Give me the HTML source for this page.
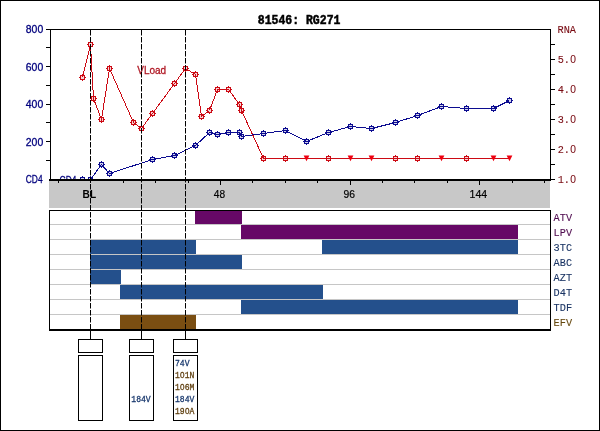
<!DOCTYPE html>
<html><head><meta charset="utf-8"><title>81546: RG271</title>
<style>html,body{margin:0;padding:0;background:#fff;}svg{display:block;will-change:transform;}</style>
</head><body>
<svg width="600" height="431" viewBox="0 0 600 431">
<rect x="0" y="0" width="600" height="431" fill="#fff"/>
<text x="59.6" y="183.6" style="font-family:'Liberation Sans',sans-serif" font-size="11" font-weight="normal" fill="#00007e" text-anchor="start" textLength="16.8" lengthAdjust="spacingAndGlyphs" stroke="#00007e" stroke-width="0.3">CD4</text>
<polyline fill="none" shape-rendering="crispEdges" stroke="#cc0a14" stroke-width="1.0" points="82.5,77.5 90.5,44.5 93.5,98.5 101.5,119.5 109.5,68.5 133.5,122.5 141.5,128.5 152.5,113.5 174.5,83.5 185.5,68.5 195.5,74.5 201.5,116.5 209.5,110.5 217.5,89.5 228.5,89.5 239.5,104.5 241.5,110.5 263.5,158.5 285.5,158.5 306.5,158.5 328.5,158.5 350.5,158.5 371.5,158.5 395.5,158.5 417.5,158.5 441.5,158.5 466.5,158.5 493.5,158.5 509.5,158.5"/>
<polyline fill="none" shape-rendering="crispEdges" stroke="#0c0c90" stroke-width="1.0" points="82.5,179.5 90.5,179.5 101.5,164.5 109.5,173.5 152.5,159.5 174.5,155.5 195.5,145.5 209.5,132.5 217.5,134.5 228.5,132.5 239.5,132.5 241.5,136.5 263.5,133.5 285.5,130.5 306.5,141.5 328.5,132.5 350.5,126.5 371.5,128.5 395.5,122.5 417.5,115.5 441.5,106.5 466.5,108.5 493.5,108.5 509.5,100.5"/>
<g shape-rendering="crispEdges"><rect x="81" y="76" width="3" height="3" fill="#cc0a14" fill-opacity="0.18"/><rect x="80.5" y="75.5" width="4" height="4" fill="none" stroke="#cc0a14" stroke-width="1"/><rect x="82" y="74" width="1" height="1" fill="#cc0a14"/><rect x="82" y="80" width="1" height="1" fill="#cc0a14"/><rect x="79" y="77" width="1" height="1" fill="#cc0a14"/><rect x="85" y="77" width="1" height="1" fill="#cc0a14"/></g>
<g shape-rendering="crispEdges"><rect x="89" y="43" width="3" height="3" fill="#cc0a14" fill-opacity="0.18"/><rect x="88.5" y="42.5" width="4" height="4" fill="none" stroke="#cc0a14" stroke-width="1"/><rect x="90" y="41" width="1" height="1" fill="#cc0a14"/><rect x="90" y="47" width="1" height="1" fill="#cc0a14"/><rect x="87" y="44" width="1" height="1" fill="#cc0a14"/><rect x="93" y="44" width="1" height="1" fill="#cc0a14"/></g>
<g shape-rendering="crispEdges"><rect x="92" y="97" width="3" height="3" fill="#cc0a14" fill-opacity="0.18"/><rect x="91.5" y="96.5" width="4" height="4" fill="none" stroke="#cc0a14" stroke-width="1"/><rect x="93" y="95" width="1" height="1" fill="#cc0a14"/><rect x="93" y="101" width="1" height="1" fill="#cc0a14"/><rect x="90" y="98" width="1" height="1" fill="#cc0a14"/><rect x="96" y="98" width="1" height="1" fill="#cc0a14"/></g>
<g shape-rendering="crispEdges"><rect x="100" y="118" width="3" height="3" fill="#cc0a14" fill-opacity="0.18"/><rect x="99.5" y="117.5" width="4" height="4" fill="none" stroke="#cc0a14" stroke-width="1"/><rect x="101" y="116" width="1" height="1" fill="#cc0a14"/><rect x="101" y="122" width="1" height="1" fill="#cc0a14"/><rect x="98" y="119" width="1" height="1" fill="#cc0a14"/><rect x="104" y="119" width="1" height="1" fill="#cc0a14"/></g>
<g shape-rendering="crispEdges"><rect x="108" y="67" width="3" height="3" fill="#cc0a14" fill-opacity="0.18"/><rect x="107.5" y="66.5" width="4" height="4" fill="none" stroke="#cc0a14" stroke-width="1"/><rect x="109" y="65" width="1" height="1" fill="#cc0a14"/><rect x="109" y="71" width="1" height="1" fill="#cc0a14"/><rect x="106" y="68" width="1" height="1" fill="#cc0a14"/><rect x="112" y="68" width="1" height="1" fill="#cc0a14"/></g>
<g shape-rendering="crispEdges"><rect x="132" y="121" width="3" height="3" fill="#cc0a14" fill-opacity="0.18"/><rect x="131.5" y="120.5" width="4" height="4" fill="none" stroke="#cc0a14" stroke-width="1"/><rect x="133" y="119" width="1" height="1" fill="#cc0a14"/><rect x="133" y="125" width="1" height="1" fill="#cc0a14"/><rect x="130" y="122" width="1" height="1" fill="#cc0a14"/><rect x="136" y="122" width="1" height="1" fill="#cc0a14"/></g>
<g shape-rendering="crispEdges"><rect x="140" y="127" width="3" height="3" fill="#cc0a14" fill-opacity="0.18"/><rect x="139.5" y="126.5" width="4" height="4" fill="none" stroke="#cc0a14" stroke-width="1"/><rect x="141" y="125" width="1" height="1" fill="#cc0a14"/><rect x="141" y="131" width="1" height="1" fill="#cc0a14"/><rect x="138" y="128" width="1" height="1" fill="#cc0a14"/><rect x="144" y="128" width="1" height="1" fill="#cc0a14"/></g>
<g shape-rendering="crispEdges"><rect x="151" y="112" width="3" height="3" fill="#cc0a14" fill-opacity="0.18"/><rect x="150.5" y="111.5" width="4" height="4" fill="none" stroke="#cc0a14" stroke-width="1"/><rect x="152" y="110" width="1" height="1" fill="#cc0a14"/><rect x="152" y="116" width="1" height="1" fill="#cc0a14"/><rect x="149" y="113" width="1" height="1" fill="#cc0a14"/><rect x="155" y="113" width="1" height="1" fill="#cc0a14"/></g>
<g shape-rendering="crispEdges"><rect x="173" y="82" width="3" height="3" fill="#cc0a14" fill-opacity="0.18"/><rect x="172.5" y="81.5" width="4" height="4" fill="none" stroke="#cc0a14" stroke-width="1"/><rect x="174" y="80" width="1" height="1" fill="#cc0a14"/><rect x="174" y="86" width="1" height="1" fill="#cc0a14"/><rect x="171" y="83" width="1" height="1" fill="#cc0a14"/><rect x="177" y="83" width="1" height="1" fill="#cc0a14"/></g>
<g shape-rendering="crispEdges"><rect x="184" y="67" width="3" height="3" fill="#cc0a14" fill-opacity="0.18"/><rect x="183.5" y="66.5" width="4" height="4" fill="none" stroke="#cc0a14" stroke-width="1"/><rect x="185" y="65" width="1" height="1" fill="#cc0a14"/><rect x="185" y="71" width="1" height="1" fill="#cc0a14"/><rect x="182" y="68" width="1" height="1" fill="#cc0a14"/><rect x="188" y="68" width="1" height="1" fill="#cc0a14"/></g>
<g shape-rendering="crispEdges"><rect x="194" y="73" width="3" height="3" fill="#cc0a14" fill-opacity="0.18"/><rect x="193.5" y="72.5" width="4" height="4" fill="none" stroke="#cc0a14" stroke-width="1"/><rect x="195" y="71" width="1" height="1" fill="#cc0a14"/><rect x="195" y="77" width="1" height="1" fill="#cc0a14"/><rect x="192" y="74" width="1" height="1" fill="#cc0a14"/><rect x="198" y="74" width="1" height="1" fill="#cc0a14"/></g>
<g shape-rendering="crispEdges"><rect x="200" y="115" width="3" height="3" fill="#cc0a14" fill-opacity="0.18"/><rect x="199.5" y="114.5" width="4" height="4" fill="none" stroke="#cc0a14" stroke-width="1"/><rect x="201" y="113" width="1" height="1" fill="#cc0a14"/><rect x="201" y="119" width="1" height="1" fill="#cc0a14"/><rect x="198" y="116" width="1" height="1" fill="#cc0a14"/><rect x="204" y="116" width="1" height="1" fill="#cc0a14"/></g>
<g shape-rendering="crispEdges"><rect x="208" y="109" width="3" height="3" fill="#cc0a14" fill-opacity="0.18"/><rect x="207.5" y="108.5" width="4" height="4" fill="none" stroke="#cc0a14" stroke-width="1"/><rect x="209" y="107" width="1" height="1" fill="#cc0a14"/><rect x="209" y="113" width="1" height="1" fill="#cc0a14"/><rect x="206" y="110" width="1" height="1" fill="#cc0a14"/><rect x="212" y="110" width="1" height="1" fill="#cc0a14"/></g>
<g shape-rendering="crispEdges"><rect x="216" y="88" width="3" height="3" fill="#cc0a14" fill-opacity="0.18"/><rect x="215.5" y="87.5" width="4" height="4" fill="none" stroke="#cc0a14" stroke-width="1"/><rect x="217" y="86" width="1" height="1" fill="#cc0a14"/><rect x="217" y="92" width="1" height="1" fill="#cc0a14"/><rect x="214" y="89" width="1" height="1" fill="#cc0a14"/><rect x="220" y="89" width="1" height="1" fill="#cc0a14"/></g>
<g shape-rendering="crispEdges"><rect x="227" y="88" width="3" height="3" fill="#cc0a14" fill-opacity="0.18"/><rect x="226.5" y="87.5" width="4" height="4" fill="none" stroke="#cc0a14" stroke-width="1"/><rect x="228" y="86" width="1" height="1" fill="#cc0a14"/><rect x="228" y="92" width="1" height="1" fill="#cc0a14"/><rect x="225" y="89" width="1" height="1" fill="#cc0a14"/><rect x="231" y="89" width="1" height="1" fill="#cc0a14"/></g>
<g shape-rendering="crispEdges"><rect x="238" y="103" width="3" height="3" fill="#cc0a14" fill-opacity="0.18"/><rect x="237.5" y="102.5" width="4" height="4" fill="none" stroke="#cc0a14" stroke-width="1"/><rect x="239" y="101" width="1" height="1" fill="#cc0a14"/><rect x="239" y="107" width="1" height="1" fill="#cc0a14"/><rect x="236" y="104" width="1" height="1" fill="#cc0a14"/><rect x="242" y="104" width="1" height="1" fill="#cc0a14"/></g>
<g shape-rendering="crispEdges"><rect x="240" y="109" width="3" height="3" fill="#cc0a14" fill-opacity="0.18"/><rect x="239.5" y="108.5" width="4" height="4" fill="none" stroke="#cc0a14" stroke-width="1"/><rect x="241" y="107" width="1" height="1" fill="#cc0a14"/><rect x="241" y="113" width="1" height="1" fill="#cc0a14"/><rect x="238" y="110" width="1" height="1" fill="#cc0a14"/><rect x="244" y="110" width="1" height="1" fill="#cc0a14"/></g>
<g shape-rendering="crispEdges"><rect x="262" y="157" width="3" height="3" fill="#cc0a14" fill-opacity="0.18"/><rect x="261.5" y="156.5" width="4" height="4" fill="none" stroke="#cc0a14" stroke-width="1"/><rect x="263" y="155" width="1" height="1" fill="#cc0a14"/><rect x="263" y="161" width="1" height="1" fill="#cc0a14"/><rect x="260" y="158" width="1" height="1" fill="#cc0a14"/><rect x="266" y="158" width="1" height="1" fill="#cc0a14"/></g>
<g shape-rendering="crispEdges"><rect x="284" y="157" width="3" height="3" fill="#cc0a14" fill-opacity="0.18"/><rect x="283.5" y="156.5" width="4" height="4" fill="none" stroke="#cc0a14" stroke-width="1"/><rect x="285" y="155" width="1" height="1" fill="#cc0a14"/><rect x="285" y="161" width="1" height="1" fill="#cc0a14"/><rect x="282" y="158" width="1" height="1" fill="#cc0a14"/><rect x="288" y="158" width="1" height="1" fill="#cc0a14"/></g>
<path d="M303.6,155.4 L309.4,155.4 L306.5,161.3 Z" fill="#ee0010"/>
<g shape-rendering="crispEdges"><rect x="327" y="157" width="3" height="3" fill="#cc0a14" fill-opacity="0.18"/><rect x="326.5" y="156.5" width="4" height="4" fill="none" stroke="#cc0a14" stroke-width="1"/><rect x="328" y="155" width="1" height="1" fill="#cc0a14"/><rect x="328" y="161" width="1" height="1" fill="#cc0a14"/><rect x="325" y="158" width="1" height="1" fill="#cc0a14"/><rect x="331" y="158" width="1" height="1" fill="#cc0a14"/></g>
<path d="M347.6,155.4 L353.4,155.4 L350.5,161.3 Z" fill="#ee0010"/>
<path d="M368.6,155.4 L374.4,155.4 L371.5,161.3 Z" fill="#ee0010"/>
<g shape-rendering="crispEdges"><rect x="394" y="157" width="3" height="3" fill="#cc0a14" fill-opacity="0.18"/><rect x="393.5" y="156.5" width="4" height="4" fill="none" stroke="#cc0a14" stroke-width="1"/><rect x="395" y="155" width="1" height="1" fill="#cc0a14"/><rect x="395" y="161" width="1" height="1" fill="#cc0a14"/><rect x="392" y="158" width="1" height="1" fill="#cc0a14"/><rect x="398" y="158" width="1" height="1" fill="#cc0a14"/></g>
<g shape-rendering="crispEdges"><rect x="416" y="157" width="3" height="3" fill="#cc0a14" fill-opacity="0.18"/><rect x="415.5" y="156.5" width="4" height="4" fill="none" stroke="#cc0a14" stroke-width="1"/><rect x="417" y="155" width="1" height="1" fill="#cc0a14"/><rect x="417" y="161" width="1" height="1" fill="#cc0a14"/><rect x="414" y="158" width="1" height="1" fill="#cc0a14"/><rect x="420" y="158" width="1" height="1" fill="#cc0a14"/></g>
<path d="M438.6,155.4 L444.4,155.4 L441.5,161.3 Z" fill="#ee0010"/>
<g shape-rendering="crispEdges"><rect x="465" y="157" width="3" height="3" fill="#cc0a14" fill-opacity="0.18"/><rect x="464.5" y="156.5" width="4" height="4" fill="none" stroke="#cc0a14" stroke-width="1"/><rect x="466" y="155" width="1" height="1" fill="#cc0a14"/><rect x="466" y="161" width="1" height="1" fill="#cc0a14"/><rect x="463" y="158" width="1" height="1" fill="#cc0a14"/><rect x="469" y="158" width="1" height="1" fill="#cc0a14"/></g>
<path d="M490.6,155.4 L496.4,155.4 L493.5,161.3 Z" fill="#ee0010"/>
<path d="M506.6,155.4 L512.4,155.4 L509.5,161.3 Z" fill="#ee0010"/>
<g shape-rendering="crispEdges"><rect x="81" y="178" width="3" height="3" fill="#0c0c90" fill-opacity="0.18"/><rect x="80.5" y="177.5" width="4" height="4" fill="none" stroke="#0c0c90" stroke-width="1"/><rect x="82" y="176" width="1" height="1" fill="#0c0c90"/><rect x="82" y="182" width="1" height="1" fill="#0c0c90"/><rect x="79" y="179" width="1" height="1" fill="#0c0c90"/><rect x="85" y="179" width="1" height="1" fill="#0c0c90"/></g>
<g shape-rendering="crispEdges"><rect x="89" y="178" width="3" height="3" fill="#0c0c90" fill-opacity="0.18"/><rect x="88.5" y="177.5" width="4" height="4" fill="none" stroke="#0c0c90" stroke-width="1"/><rect x="90" y="176" width="1" height="1" fill="#0c0c90"/><rect x="90" y="182" width="1" height="1" fill="#0c0c90"/><rect x="87" y="179" width="1" height="1" fill="#0c0c90"/><rect x="93" y="179" width="1" height="1" fill="#0c0c90"/></g>
<g shape-rendering="crispEdges"><rect x="100" y="163" width="3" height="3" fill="#0c0c90" fill-opacity="0.18"/><rect x="99.5" y="162.5" width="4" height="4" fill="none" stroke="#0c0c90" stroke-width="1"/><rect x="101" y="161" width="1" height="1" fill="#0c0c90"/><rect x="101" y="167" width="1" height="1" fill="#0c0c90"/><rect x="98" y="164" width="1" height="1" fill="#0c0c90"/><rect x="104" y="164" width="1" height="1" fill="#0c0c90"/></g>
<g shape-rendering="crispEdges"><rect x="108" y="172" width="3" height="3" fill="#0c0c90" fill-opacity="0.18"/><rect x="107.5" y="171.5" width="4" height="4" fill="none" stroke="#0c0c90" stroke-width="1"/><rect x="109" y="170" width="1" height="1" fill="#0c0c90"/><rect x="109" y="176" width="1" height="1" fill="#0c0c90"/><rect x="106" y="173" width="1" height="1" fill="#0c0c90"/><rect x="112" y="173" width="1" height="1" fill="#0c0c90"/></g>
<g shape-rendering="crispEdges"><rect x="151" y="158" width="3" height="3" fill="#0c0c90" fill-opacity="0.18"/><rect x="150.5" y="157.5" width="4" height="4" fill="none" stroke="#0c0c90" stroke-width="1"/><rect x="152" y="156" width="1" height="1" fill="#0c0c90"/><rect x="152" y="162" width="1" height="1" fill="#0c0c90"/><rect x="149" y="159" width="1" height="1" fill="#0c0c90"/><rect x="155" y="159" width="1" height="1" fill="#0c0c90"/></g>
<g shape-rendering="crispEdges"><rect x="173" y="154" width="3" height="3" fill="#0c0c90" fill-opacity="0.18"/><rect x="172.5" y="153.5" width="4" height="4" fill="none" stroke="#0c0c90" stroke-width="1"/><rect x="174" y="152" width="1" height="1" fill="#0c0c90"/><rect x="174" y="158" width="1" height="1" fill="#0c0c90"/><rect x="171" y="155" width="1" height="1" fill="#0c0c90"/><rect x="177" y="155" width="1" height="1" fill="#0c0c90"/></g>
<g shape-rendering="crispEdges"><rect x="194" y="144" width="3" height="3" fill="#0c0c90" fill-opacity="0.18"/><rect x="193.5" y="143.5" width="4" height="4" fill="none" stroke="#0c0c90" stroke-width="1"/><rect x="195" y="142" width="1" height="1" fill="#0c0c90"/><rect x="195" y="148" width="1" height="1" fill="#0c0c90"/><rect x="192" y="145" width="1" height="1" fill="#0c0c90"/><rect x="198" y="145" width="1" height="1" fill="#0c0c90"/></g>
<g shape-rendering="crispEdges"><rect x="208" y="131" width="3" height="3" fill="#0c0c90" fill-opacity="0.18"/><rect x="207.5" y="130.5" width="4" height="4" fill="none" stroke="#0c0c90" stroke-width="1"/><rect x="209" y="129" width="1" height="1" fill="#0c0c90"/><rect x="209" y="135" width="1" height="1" fill="#0c0c90"/><rect x="206" y="132" width="1" height="1" fill="#0c0c90"/><rect x="212" y="132" width="1" height="1" fill="#0c0c90"/></g>
<g shape-rendering="crispEdges"><rect x="216" y="133" width="3" height="3" fill="#0c0c90" fill-opacity="0.18"/><rect x="215.5" y="132.5" width="4" height="4" fill="none" stroke="#0c0c90" stroke-width="1"/><rect x="217" y="131" width="1" height="1" fill="#0c0c90"/><rect x="217" y="137" width="1" height="1" fill="#0c0c90"/><rect x="214" y="134" width="1" height="1" fill="#0c0c90"/><rect x="220" y="134" width="1" height="1" fill="#0c0c90"/></g>
<g shape-rendering="crispEdges"><rect x="227" y="131" width="3" height="3" fill="#0c0c90" fill-opacity="0.18"/><rect x="226.5" y="130.5" width="4" height="4" fill="none" stroke="#0c0c90" stroke-width="1"/><rect x="228" y="129" width="1" height="1" fill="#0c0c90"/><rect x="228" y="135" width="1" height="1" fill="#0c0c90"/><rect x="225" y="132" width="1" height="1" fill="#0c0c90"/><rect x="231" y="132" width="1" height="1" fill="#0c0c90"/></g>
<g shape-rendering="crispEdges"><rect x="238" y="131" width="3" height="3" fill="#0c0c90" fill-opacity="0.18"/><rect x="237.5" y="130.5" width="4" height="4" fill="none" stroke="#0c0c90" stroke-width="1"/><rect x="239" y="129" width="1" height="1" fill="#0c0c90"/><rect x="239" y="135" width="1" height="1" fill="#0c0c90"/><rect x="236" y="132" width="1" height="1" fill="#0c0c90"/><rect x="242" y="132" width="1" height="1" fill="#0c0c90"/></g>
<g shape-rendering="crispEdges"><rect x="240" y="135" width="3" height="3" fill="#0c0c90" fill-opacity="0.18"/><rect x="239.5" y="134.5" width="4" height="4" fill="none" stroke="#0c0c90" stroke-width="1"/><rect x="241" y="133" width="1" height="1" fill="#0c0c90"/><rect x="241" y="139" width="1" height="1" fill="#0c0c90"/><rect x="238" y="136" width="1" height="1" fill="#0c0c90"/><rect x="244" y="136" width="1" height="1" fill="#0c0c90"/></g>
<g shape-rendering="crispEdges"><rect x="262" y="132" width="3" height="3" fill="#0c0c90" fill-opacity="0.18"/><rect x="261.5" y="131.5" width="4" height="4" fill="none" stroke="#0c0c90" stroke-width="1"/><rect x="263" y="130" width="1" height="1" fill="#0c0c90"/><rect x="263" y="136" width="1" height="1" fill="#0c0c90"/><rect x="260" y="133" width="1" height="1" fill="#0c0c90"/><rect x="266" y="133" width="1" height="1" fill="#0c0c90"/></g>
<g shape-rendering="crispEdges"><rect x="284" y="129" width="3" height="3" fill="#0c0c90" fill-opacity="0.18"/><rect x="283.5" y="128.5" width="4" height="4" fill="none" stroke="#0c0c90" stroke-width="1"/><rect x="285" y="127" width="1" height="1" fill="#0c0c90"/><rect x="285" y="133" width="1" height="1" fill="#0c0c90"/><rect x="282" y="130" width="1" height="1" fill="#0c0c90"/><rect x="288" y="130" width="1" height="1" fill="#0c0c90"/></g>
<g shape-rendering="crispEdges"><rect x="305" y="140" width="3" height="3" fill="#0c0c90" fill-opacity="0.18"/><rect x="304.5" y="139.5" width="4" height="4" fill="none" stroke="#0c0c90" stroke-width="1"/><rect x="306" y="138" width="1" height="1" fill="#0c0c90"/><rect x="306" y="144" width="1" height="1" fill="#0c0c90"/><rect x="303" y="141" width="1" height="1" fill="#0c0c90"/><rect x="309" y="141" width="1" height="1" fill="#0c0c90"/></g>
<g shape-rendering="crispEdges"><rect x="327" y="131" width="3" height="3" fill="#0c0c90" fill-opacity="0.18"/><rect x="326.5" y="130.5" width="4" height="4" fill="none" stroke="#0c0c90" stroke-width="1"/><rect x="328" y="129" width="1" height="1" fill="#0c0c90"/><rect x="328" y="135" width="1" height="1" fill="#0c0c90"/><rect x="325" y="132" width="1" height="1" fill="#0c0c90"/><rect x="331" y="132" width="1" height="1" fill="#0c0c90"/></g>
<g shape-rendering="crispEdges"><rect x="349" y="125" width="3" height="3" fill="#0c0c90" fill-opacity="0.18"/><rect x="348.5" y="124.5" width="4" height="4" fill="none" stroke="#0c0c90" stroke-width="1"/><rect x="350" y="123" width="1" height="1" fill="#0c0c90"/><rect x="350" y="129" width="1" height="1" fill="#0c0c90"/><rect x="347" y="126" width="1" height="1" fill="#0c0c90"/><rect x="353" y="126" width="1" height="1" fill="#0c0c90"/></g>
<g shape-rendering="crispEdges"><rect x="370" y="127" width="3" height="3" fill="#0c0c90" fill-opacity="0.18"/><rect x="369.5" y="126.5" width="4" height="4" fill="none" stroke="#0c0c90" stroke-width="1"/><rect x="371" y="125" width="1" height="1" fill="#0c0c90"/><rect x="371" y="131" width="1" height="1" fill="#0c0c90"/><rect x="368" y="128" width="1" height="1" fill="#0c0c90"/><rect x="374" y="128" width="1" height="1" fill="#0c0c90"/></g>
<g shape-rendering="crispEdges"><rect x="394" y="121" width="3" height="3" fill="#0c0c90" fill-opacity="0.18"/><rect x="393.5" y="120.5" width="4" height="4" fill="none" stroke="#0c0c90" stroke-width="1"/><rect x="395" y="119" width="1" height="1" fill="#0c0c90"/><rect x="395" y="125" width="1" height="1" fill="#0c0c90"/><rect x="392" y="122" width="1" height="1" fill="#0c0c90"/><rect x="398" y="122" width="1" height="1" fill="#0c0c90"/></g>
<g shape-rendering="crispEdges"><rect x="416" y="114" width="3" height="3" fill="#0c0c90" fill-opacity="0.18"/><rect x="415.5" y="113.5" width="4" height="4" fill="none" stroke="#0c0c90" stroke-width="1"/><rect x="417" y="112" width="1" height="1" fill="#0c0c90"/><rect x="417" y="118" width="1" height="1" fill="#0c0c90"/><rect x="414" y="115" width="1" height="1" fill="#0c0c90"/><rect x="420" y="115" width="1" height="1" fill="#0c0c90"/></g>
<g shape-rendering="crispEdges"><rect x="440" y="105" width="3" height="3" fill="#0c0c90" fill-opacity="0.18"/><rect x="439.5" y="104.5" width="4" height="4" fill="none" stroke="#0c0c90" stroke-width="1"/><rect x="441" y="103" width="1" height="1" fill="#0c0c90"/><rect x="441" y="109" width="1" height="1" fill="#0c0c90"/><rect x="438" y="106" width="1" height="1" fill="#0c0c90"/><rect x="444" y="106" width="1" height="1" fill="#0c0c90"/></g>
<g shape-rendering="crispEdges"><rect x="465" y="107" width="3" height="3" fill="#0c0c90" fill-opacity="0.18"/><rect x="464.5" y="106.5" width="4" height="4" fill="none" stroke="#0c0c90" stroke-width="1"/><rect x="466" y="105" width="1" height="1" fill="#0c0c90"/><rect x="466" y="111" width="1" height="1" fill="#0c0c90"/><rect x="463" y="108" width="1" height="1" fill="#0c0c90"/><rect x="469" y="108" width="1" height="1" fill="#0c0c90"/></g>
<g shape-rendering="crispEdges"><rect x="492" y="107" width="3" height="3" fill="#0c0c90" fill-opacity="0.18"/><rect x="491.5" y="106.5" width="4" height="4" fill="none" stroke="#0c0c90" stroke-width="1"/><rect x="493" y="105" width="1" height="1" fill="#0c0c90"/><rect x="493" y="111" width="1" height="1" fill="#0c0c90"/><rect x="490" y="108" width="1" height="1" fill="#0c0c90"/><rect x="496" y="108" width="1" height="1" fill="#0c0c90"/></g>
<g shape-rendering="crispEdges"><rect x="508" y="99" width="3" height="3" fill="#0c0c90" fill-opacity="0.18"/><rect x="507.5" y="98.5" width="4" height="4" fill="none" stroke="#0c0c90" stroke-width="1"/><rect x="509" y="97" width="1" height="1" fill="#0c0c90"/><rect x="509" y="103" width="1" height="1" fill="#0c0c90"/><rect x="506" y="100" width="1" height="1" fill="#0c0c90"/><rect x="512" y="100" width="1" height="1" fill="#0c0c90"/></g>
<text x="137.2" y="74" style="font-family:'Liberation Sans',sans-serif" font-size="11" font-weight="normal" fill="#b01824" text-anchor="start" textLength="29" lengthAdjust="spacingAndGlyphs" stroke="#b01824" stroke-width="0.3">VLoad</text>
<rect x="49" y="181" width="501" height="27" fill="#c8c8c8" shape-rendering="crispEdges"/>
<g shape-rendering="crispEdges" fill="#000">
<rect x="50" y="29" width="501" height="1"/>
<rect x="50" y="29" width="1" height="151"/>
<rect x="550" y="29" width="1" height="151"/>
<rect x="49" y="179" width="502" height="2"/>
<rect x="46" y="29" width="4" height="1"/>
<rect x="46" y="47" width="4" height="1"/>
<rect x="46" y="66" width="4" height="1"/>
<rect x="46" y="85" width="4" height="1"/>
<rect x="46" y="104" width="4" height="1"/>
<rect x="46" y="122" width="4" height="1"/>
<rect x="46" y="141" width="4" height="1"/>
<rect x="46" y="160" width="4" height="1"/>
<rect x="551" y="44" width="4" height="1"/>
<rect x="551" y="59" width="4" height="1"/>
<rect x="551" y="74" width="4" height="1"/>
<rect x="551" y="89" width="4" height="1"/>
<rect x="551" y="104" width="4" height="1"/>
<rect x="551" y="119" width="4" height="1"/>
<rect x="551" y="134" width="4" height="1"/>
<rect x="551" y="149" width="4" height="1"/>
<rect x="551" y="164" width="4" height="1"/>
<rect x="551" y="179" width="4" height="1"/>
<rect x="58" y="181" width="1" height="2"/>
<rect x="90" y="181" width="1" height="2"/>
<rect x="123" y="181" width="1" height="2"/>
<rect x="155" y="181" width="1" height="2"/>
<rect x="188" y="181" width="1" height="2"/>
<rect x="220" y="181" width="1" height="4"/>
<rect x="252" y="181" width="1" height="2"/>
<rect x="285" y="181" width="1" height="2"/>
<rect x="317" y="181" width="1" height="2"/>
<rect x="350" y="181" width="1" height="4"/>
<rect x="382" y="181" width="1" height="2"/>
<rect x="414" y="181" width="1" height="2"/>
<rect x="447" y="181" width="1" height="2"/>
<rect x="479" y="181" width="1" height="4"/>
<rect x="512" y="181" width="1" height="2"/>
<rect x="544" y="181" width="1" height="2"/>
</g>
<g shape-rendering="crispEdges">
<rect x="195" y="210" width="47" height="15" fill="#660866"/>
<rect x="241" y="225" width="277" height="15" fill="#660866"/>
<rect x="90" y="240" width="106" height="15" fill="#24508c"/>
<rect x="322" y="240" width="196" height="15" fill="#24508c"/>
<rect x="90" y="255" width="152" height="15" fill="#24508c"/>
<rect x="90" y="270" width="31" height="15" fill="#24508c"/>
<rect x="120" y="285" width="203" height="15" fill="#24508c"/>
<rect x="241" y="300" width="277" height="15" fill="#24508c"/>
<rect x="120" y="315" width="76" height="15" fill="#7a4e12"/>
<rect x="50" y="224" width="500" height="1" fill="#c6c6c6"/>
<rect x="50" y="239" width="500" height="1" fill="#c6c6c6"/>
<rect x="50" y="254" width="500" height="1" fill="#c6c6c6"/>
<rect x="50" y="269" width="500" height="1" fill="#c6c6c6"/>
<rect x="50" y="284" width="500" height="1" fill="#c6c6c6"/>
<rect x="50" y="299" width="500" height="1" fill="#c6c6c6"/>
<rect x="50" y="314" width="500" height="1" fill="#c6c6c6"/>
<rect x="49" y="210" width="502" height="1" fill="#000"/>
<rect x="49" y="210" width="1" height="120" fill="#000"/>
<rect x="550" y="210" width="1" height="120" fill="#000"/>
<rect x="49" y="329" width="502" height="2" fill="#000"/>
</g>
<text transform="translate(553.6,220.6) scale(0.9318,1)" style="font-family:'Liberation Mono',monospace" font-size="11" font-weight="normal" fill="#500c50" stroke="#500c50" stroke-width="0.1"><tspan x="0.00">A</tspan><tspan x="6.60">T</tspan><tspan x="13.20">V</tspan></text>
<text transform="translate(553.6,235.6) scale(0.9318,1)" style="font-family:'Liberation Mono',monospace" font-size="11" font-weight="normal" fill="#500c50" stroke="#500c50" stroke-width="0.1"><tspan x="0.00">L</tspan><tspan x="6.60">P</tspan><tspan x="13.20">V</tspan></text>
<text transform="translate(553.6,250.6) scale(0.9318,1)" style="font-family:'Liberation Mono',monospace" font-size="11" font-weight="normal" fill="#1a3464" stroke="#1a3464" stroke-width="0.1"><tspan x="0.00">3</tspan><tspan x="6.60">T</tspan><tspan x="13.20">C</tspan></text>
<text transform="translate(553.6,265.6) scale(0.9318,1)" style="font-family:'Liberation Mono',monospace" font-size="11" font-weight="normal" fill="#1a3464" stroke="#1a3464" stroke-width="0.1"><tspan x="0.00">A</tspan><tspan x="6.60">B</tspan><tspan x="13.20">C</tspan></text>
<text transform="translate(553.6,280.6) scale(0.9318,1)" style="font-family:'Liberation Mono',monospace" font-size="11" font-weight="normal" fill="#1a3464" stroke="#1a3464" stroke-width="0.1"><tspan x="0.00">A</tspan><tspan x="6.60">Z</tspan><tspan x="13.20">T</tspan></text>
<text transform="translate(553.6,295.6) scale(0.9318,1)" style="font-family:'Liberation Mono',monospace" font-size="11" font-weight="normal" fill="#1a3464" stroke="#1a3464" stroke-width="0.1"><tspan x="0.00">D</tspan><tspan x="6.60">4</tspan><tspan x="13.20">T</tspan></text>
<text transform="translate(553.6,310.6) scale(0.9318,1)" style="font-family:'Liberation Mono',monospace" font-size="11" font-weight="normal" fill="#1a3464" stroke="#1a3464" stroke-width="0.1"><tspan x="0.00">T</tspan><tspan x="6.60">D</tspan><tspan x="13.20">F</tspan></text>
<text transform="translate(553.6,325.6) scale(0.9318,1)" style="font-family:'Liberation Mono',monospace" font-size="11" font-weight="normal" fill="#66480f" stroke="#66480f" stroke-width="0.1"><tspan x="0.00">E</tspan><tspan x="6.60">F</tspan><tspan x="13.20">V</tspan></text>
<line x1="90.5" y1="30" x2="90.5" y2="331" stroke="#000" stroke-width="1" stroke-dasharray="5.5,1.5"/>
<rect x="90" y="331" width="1" height="8" fill="#000" shape-rendering="crispEdges"/>
<line x1="141.5" y1="30" x2="141.5" y2="331" stroke="#000" stroke-width="1" stroke-dasharray="5.5,1.5"/>
<rect x="141" y="331" width="1" height="8" fill="#000" shape-rendering="crispEdges"/>
<line x1="185.5" y1="30" x2="185.5" y2="331" stroke="#000" stroke-width="1" stroke-dasharray="5.5,1.5"/>
<rect x="185" y="331" width="1" height="8" fill="#000" shape-rendering="crispEdges"/>
<rect x="78.5" y="339.5" width="24" height="13" fill="#fff" stroke="#000" stroke-width="1" shape-rendering="crispEdges"/>
<rect x="78.5" y="355.5" width="24" height="65" fill="#fff" stroke="#000" stroke-width="1" shape-rendering="crispEdges"/>
<rect x="129.5" y="339.5" width="24" height="13" fill="#fff" stroke="#000" stroke-width="1" shape-rendering="crispEdges"/>
<rect x="129.5" y="355.5" width="24" height="65" fill="#fff" stroke="#000" stroke-width="1" shape-rendering="crispEdges"/>
<rect x="173.5" y="339.5" width="24" height="13" fill="#fff" stroke="#000" stroke-width="1" shape-rendering="crispEdges"/>
<rect x="173.5" y="355.5" width="24" height="65" fill="#fff" stroke="#000" stroke-width="1" shape-rendering="crispEdges"/>
<text transform="translate(131.3,402) scale(0.8981,1)" style="font-family:'Liberation Mono',monospace" font-size="9" font-weight="normal" fill="#16366c" stroke="#16366c" stroke-width="0.28"><tspan x="0.00">1</tspan><tspan x="5.40">8</tspan><tspan x="10.80">4</tspan><tspan x="16.20">V</tspan></text>
<text transform="translate(175.0,366) scale(0.8981,1)" style="font-family:'Liberation Mono',monospace" font-size="9" font-weight="normal" fill="#16366c" stroke="#16366c" stroke-width="0.28"><tspan x="0.00">7</tspan><tspan x="5.40">4</tspan><tspan x="10.80">V</tspan></text>
<text transform="translate(175.0,378) scale(0.8981,1)" style="font-family:'Liberation Mono',monospace" font-size="9" font-weight="normal" fill="#5e3e0e" stroke="#5e3e0e" stroke-width="0.28"><tspan x="0.00">1</tspan><tspan x="5.60" style="font-family:'Liberation Sans',sans-serif">0</tspan><tspan x="10.80">1</tspan><tspan x="16.20">N</tspan></text>
<text transform="translate(175.0,390) scale(0.8981,1)" style="font-family:'Liberation Mono',monospace" font-size="9" font-weight="normal" fill="#5e3e0e" stroke="#5e3e0e" stroke-width="0.28"><tspan x="0.00">1</tspan><tspan x="5.60" style="font-family:'Liberation Sans',sans-serif">0</tspan><tspan x="10.80">6</tspan><tspan x="16.20">M</tspan></text>
<text transform="translate(175.0,402) scale(0.8981,1)" style="font-family:'Liberation Mono',monospace" font-size="9" font-weight="normal" fill="#16366c" stroke="#16366c" stroke-width="0.28"><tspan x="0.00">1</tspan><tspan x="5.40">8</tspan><tspan x="10.80">4</tspan><tspan x="16.20">V</tspan></text>
<text transform="translate(175.0,414) scale(0.8981,1)" style="font-family:'Liberation Mono',monospace" font-size="9" font-weight="normal" fill="#5e3e0e" stroke="#5e3e0e" stroke-width="0.28"><tspan x="0.00">1</tspan><tspan x="5.40">9</tspan><tspan x="11.00" style="font-family:'Liberation Sans',sans-serif">0</tspan><tspan x="16.20">A</tspan></text>
<text x="25.8" y="33" style="font-family:'Liberation Sans',sans-serif" font-size="11" font-weight="normal" fill="#00007e" text-anchor="start" textLength="17.4" lengthAdjust="spacingAndGlyphs" stroke="#00007e" stroke-width="0.3">800</text>
<text x="25.8" y="70.5" style="font-family:'Liberation Sans',sans-serif" font-size="11" font-weight="normal" fill="#00007e" text-anchor="start" textLength="17.4" lengthAdjust="spacingAndGlyphs" stroke="#00007e" stroke-width="0.3">600</text>
<text x="25.8" y="108" style="font-family:'Liberation Sans',sans-serif" font-size="11" font-weight="normal" fill="#00007e" text-anchor="start" textLength="17.4" lengthAdjust="spacingAndGlyphs" stroke="#00007e" stroke-width="0.3">400</text>
<text x="25.8" y="145.5" style="font-family:'Liberation Sans',sans-serif" font-size="11" font-weight="normal" fill="#00007e" text-anchor="start" textLength="17.4" lengthAdjust="spacingAndGlyphs" stroke="#00007e" stroke-width="0.3">200</text>
<text x="25.8" y="183" style="font-family:'Liberation Sans',sans-serif" font-size="11" font-weight="normal" fill="#00007e" text-anchor="start" textLength="16.8" lengthAdjust="spacingAndGlyphs" stroke="#00007e" stroke-width="0.3">CD4</text>
<text transform="translate(557.5,33) scale(0.9318,1)" style="font-family:'Liberation Mono',monospace" font-size="11" font-weight="normal" fill="#7a0c14" stroke="#7a0c14" stroke-width="0.1"><tspan x="0.00">R</tspan><tspan x="6.60">N</tspan><tspan x="13.20">A</tspan></text>
<text transform="translate(557.7,63) scale(0.9318,1)" style="font-family:'Liberation Mono',monospace" font-size="11" font-weight="normal" fill="#7a0c14" stroke="#7a0c14" stroke-width="0.1"><tspan x="0.00">5</tspan><tspan x="6.60">.</tspan><tspan x="13.44" style="font-family:'Liberation Sans',sans-serif">0</tspan></text>
<text transform="translate(557.7,93) scale(0.9318,1)" style="font-family:'Liberation Mono',monospace" font-size="11" font-weight="normal" fill="#7a0c14" stroke="#7a0c14" stroke-width="0.1"><tspan x="0.00">4</tspan><tspan x="6.60">.</tspan><tspan x="13.44" style="font-family:'Liberation Sans',sans-serif">0</tspan></text>
<text transform="translate(557.7,123) scale(0.9318,1)" style="font-family:'Liberation Mono',monospace" font-size="11" font-weight="normal" fill="#7a0c14" stroke="#7a0c14" stroke-width="0.1"><tspan x="0.00">3</tspan><tspan x="6.60">.</tspan><tspan x="13.44" style="font-family:'Liberation Sans',sans-serif">0</tspan></text>
<text transform="translate(557.7,153) scale(0.9318,1)" style="font-family:'Liberation Mono',monospace" font-size="11" font-weight="normal" fill="#7a0c14" stroke="#7a0c14" stroke-width="0.1"><tspan x="0.00">2</tspan><tspan x="6.60">.</tspan><tspan x="13.44" style="font-family:'Liberation Sans',sans-serif">0</tspan></text>
<text transform="translate(557.7,183) scale(0.9318,1)" style="font-family:'Liberation Mono',monospace" font-size="11" font-weight="normal" fill="#7a0c14" stroke="#7a0c14" stroke-width="0.1"><tspan x="0.00">1</tspan><tspan x="6.60">.</tspan><tspan x="13.44" style="font-family:'Liberation Sans',sans-serif">0</tspan></text>
<text x="82.6" y="198.3" style="font-family:'Liberation Sans',sans-serif" font-size="11" font-weight="bold" fill="#000" text-anchor="start" textLength="13.5" lengthAdjust="spacingAndGlyphs">BL</text>
<text x="213.8" y="198.3" style="font-family:'Liberation Sans',sans-serif" font-size="11" font-weight="normal" fill="#000" text-anchor="start" textLength="11.3" lengthAdjust="spacingAndGlyphs" stroke="#000" stroke-width="0.2">48</text>
<text x="343.5" y="198.3" style="font-family:'Liberation Sans',sans-serif" font-size="11" font-weight="normal" fill="#000" text-anchor="start" textLength="11.5" lengthAdjust="spacingAndGlyphs" stroke="#000" stroke-width="0.2">96</text>
<text x="469.6" y="198.3" style="font-family:'Liberation Sans',sans-serif" font-size="11" font-weight="normal" fill="#000" text-anchor="start" textLength="17.6" lengthAdjust="spacingAndGlyphs" stroke="#000" stroke-width="0.2">144</text>
<text x="257.8" y="24" style="font-family:'Liberation Mono',sans-serif" font-size="12.5" font-weight="bold" fill="#000" text-anchor="start" textLength="82.6" lengthAdjust="spacingAndGlyphs" stroke="#000" stroke-width="0.5">81546: RG271</text>
<rect x="0.5" y="0.5" width="599" height="430" fill="none" stroke="#000" stroke-width="1" shape-rendering="crispEdges"/>
</svg>
</body></html>
